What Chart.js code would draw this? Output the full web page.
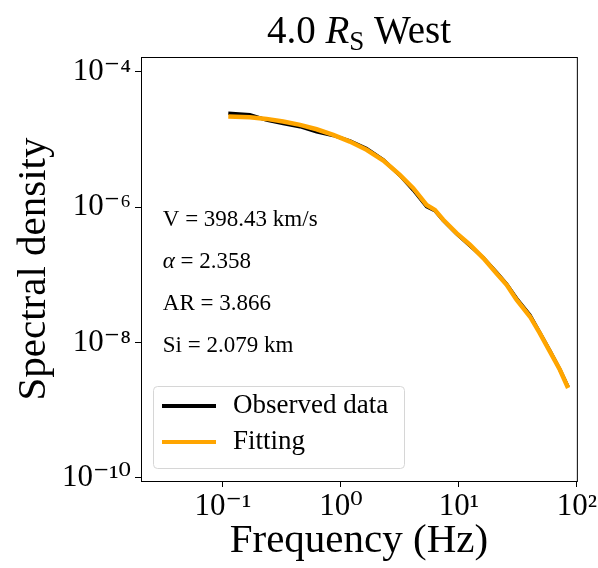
<!DOCTYPE html>
<html>
<head>
<meta charset="utf-8">
<script src="https://cdn.jsdelivr.net/npm/chart.js@4.4.1/dist/chart.umd.min.js"></script>
<style>
  html, body { margin: 0; padding: 0; background: #fff; }
  #wrap { width: 598px; height: 568px; }
</style>
</head>
<body>
<div id="wrap"><canvas id="chart" width="598" height="568"></canvas></div>
<script>
// Data
const frequency = [0.111, 0.169, 0.234, 0.324, 0.450, 0.622, 0.861, 1.19, 1.65, 2.29, 3.16,
    4.10, 5.32, 6.26, 7.36, 9.55, 12.4, 16.1, 20.8, 25.4, 30.8, 40.0, 48.5, 59.0, 71.8, 84.3];
const observed = [2.45e-5, 2.32e-5, 1.95e-5, 1.72e-5, 1.55e-5, 1.30e-5, 1.15e-5, 9.6e-6, 7.4e-6, 5.0e-6, 2.95e-6,
    1.80e-6, 1.02e-6, 8.9e-7, 6.4e-7, 4.05e-7, 2.7e-7, 1.8e-7, 1.1e-7, 7.3e-8, 4.5e-8, 2.55e-8, 1.4e-8, 7.6e-9, 4.0e-9, 2.2e-9];
const fitting = [2.19e-5, 2.14e-5, 2.02e-5, 1.85e-5, 1.65e-5, 1.42e-5, 1.17e-5, 9.35e-6, 7.05e-6, 4.90e-6, 3.01e-6,
    1.91e-6, 1.08e-6, 9.14e-7, 6.52e-7, 4.14e-7, 2.79e-7, 1.77e-7, 1.06e-7, 7.14e-8, 4.29e-8, 2.43e-8, 1.38e-8, 7.40e-9, 3.96e-9, 2.13e-9];

const xTickValues = [0.1, 1, 10, 100];
const xTickLabels = ['10⁻¹', '10⁰', '10¹', '10²'];
const yTickValues = [1e-10, 1e-8, 1e-6, 1e-4];
const yTickLabels = ['10⁻¹⁰', '10⁻⁸', '10⁻⁶', '10⁻⁴'];

const fitParams = [
    ['V', ' = 398.43 km/s'],
    ['α', ' = 2.358'],
    ['AR', ' = 3.866'],
    ['Si', ' = 2.079 km']
];

const FONT = '"Liberation Serif", "DejaVu Serif", serif';

const toPoints = (ys) => frequency.map((f, i) => ({ x: f, y: ys[i] }));

// Title with italic R and subscript S, plus the frame on all four sides
const framePlugin = {
    id: 'frame',
    afterDraw(chart) {
        const { ctx, chartArea: a } = chart;
        ctx.save();
        ctx.strokeStyle = '#000';
        ctx.lineWidth = 1;
        ctx.strokeRect(a.left + 0.5, a.top + 0.5, a.right - a.left, a.bottom - a.top);

        // title
        const parts = [
            { t: '4.0 ', f: '39px ' + FONT, dy: 0 },
            { t: 'R', f: 'italic 39px ' + FONT, dy: 0 },
            { t: 'S', f: '27px ' + FONT, dy: 7 },
            { t: ' West', f: '39px ' + FONT, dy: 0 }
        ];
        let total = 0;
        parts.forEach(p => { ctx.font = p.f; p.w = ctx.measureText(p.t).width; total += p.w; });
        let x = (a.left + a.right) / 2 - total / 2;
        ctx.fillStyle = '#000';
        ctx.textBaseline = 'alphabetic';
        parts.forEach(p => { ctx.font = p.f; ctx.fillText(p.t, x, 43 + p.dy); x += p.w; });
        ctx.restore();
    }
};

// Fit parameters text
const paramsPlugin = {
    id: 'params',
    afterDraw(chart) {
        const { ctx, chartArea: a } = chart;
        const w = a.right - a.left, h = a.bottom - a.top;
        const rows = [0.384, 0.483, 0.583, 0.682];
        ctx.save();
        ctx.fillStyle = '#000';
        ctx.textBaseline = 'middle';
        fitParams.forEach((p, i) => {
            const x = a.left + 0.05 * w;
            const y = a.top + rows[i] * h;
            ctx.font = (p[0] === 'α' ? 'italic ' : '') + '23px ' + FONT;
            ctx.fillText(p[0], x, y);
            const w0 = ctx.measureText(p[0]).width;
            ctx.font = '23px ' + FONT;
            ctx.fillText(p[1], x + w0, y);
        });
        ctx.restore();
    }
};

// Legend box in the lower left of the axes, like matplotlib
const legendPlugin = {
    id: 'boxLegend',
    afterDraw(chart) {
        const { ctx, chartArea: a } = chart;
        const x0 = a.left + 12, y1 = a.bottom - 13;
        const bw = 251, bh = 82;
        const y0 = y1 - bh;
        ctx.save();
        ctx.beginPath();
        ctx.roundRect(x0 + 0.5, y0 + 0.5, bw, bh, 4);
        ctx.fillStyle = 'rgba(255,255,255,0.8)';
        ctx.fill();
        ctx.strokeStyle = '#d6d6d6';
        ctx.lineWidth = 1;
        ctx.stroke();
        ctx.font = '27px ' + FONT;
        ctx.textBaseline = 'middle';
        const items = chart.data.datasets.slice().sort((p, q) => p.legendIndex - q.legendIndex);
        items.forEach((ds, i) => {
            const y = y0 + 20 + i * 36;
            ctx.beginPath();
            ctx.moveTo(x0 + 9, y);
            ctx.lineTo(x0 + 63, y);
            ctx.strokeStyle = ds.borderColor;
            ctx.lineWidth = 4;
            ctx.stroke();
            ctx.fillStyle = '#000';
            ctx.fillText(ds.label, x0 + 80, y);
        });
        ctx.restore();
    }
};

new Chart(document.getElementById('chart'), {
    type: 'line',
    data: {
        datasets: [{
            label: 'Observed data',
            legendIndex: 0,
            order: 2,
            data: toPoints(observed),
            borderColor: '#000000',
            borderWidth: 3.5,
            pointRadius: 0,
            tension: 0,
            fill: false
        }, {
            label: 'Fitting',
            legendIndex: 1,
            order: 1,
            data: toPoints(fitting),
            borderColor: '#FFA500',
            borderWidth: 4.5,
            pointRadius: 0,
            tension: 0,
            fill: false
        }]
    },
    options: {
        responsive: false,
        animation: false,
        layout: { padding: { top: 57, right: 21, left: 0, bottom: 0 } },
        plugins: {
            legend: { display: false },
            tooltip: { enabled: false },
            title: { display: false }
        },
        scales: {
            x: {
                type: 'logarithmic',
                min: 0.0202,
                max: 100,
                afterBuildTicks(scale) {
                    scale.ticks = xTickValues.map(v => ({ value: v }));
                },
                afterFit(scale) { scale.height = 87; },
                ticks: {
                    color: '#000',
                    font: { family: FONT, size: 31 },
                    padding: 1,
                    maxRotation: 0,
                    callback: (v) => xTickLabels[xTickValues.indexOf(v)]
                },
                grid: { display: true, drawOnChartArea: false, drawTicks: true, tickLength: 6, color: '#000' },
                border: { display: true, color: '#000' },
                title: {
                    display: true,
                    text: 'Frequency (Hz)',
                    color: '#000',
                    font: { family: FONT, size: 41 },
                    padding: { top: 0, bottom: 2 }
                }
            },
            y: {
                type: 'logarithmic',
                min: 9.0e-11,
                max: 1.66e-4,
                afterBuildTicks(scale) {
                    scale.ticks = yTickValues.map(v => ({ value: v }));
                },
                afterFit(scale) { scale.width = 141; },
                ticks: {
                    color: '#000',
                    font: { family: FONT, size: 31 },
                    padding: 4,
                    callback: (v) => yTickLabels[yTickValues.indexOf(v)]
                },
                grid: { display: true, drawOnChartArea: false, drawTicks: true, tickLength: 6, color: '#000' },
                border: { display: true, color: '#000' },
                title: {
                    display: true,
                    text: 'Spectral density',
                    color: '#000',
                    font: { family: FONT, size: 41 },
                    padding: { top: 10, bottom: 0 }
                }
            }
        }
    },
    plugins: [framePlugin, paramsPlugin, legendPlugin]
});
</script>
</body>
</html>
